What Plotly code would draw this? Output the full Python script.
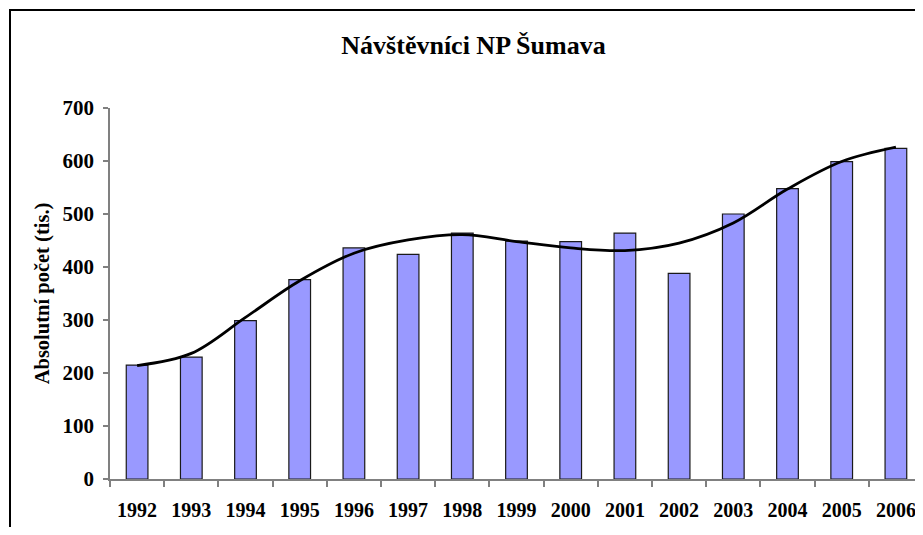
import plotly.graph_objects as go

years = ["1992", "1993", "1994", "1995", "1996", "1997", "1998", "1999",
         "2000", "2001", "2002", "2003", "2004", "2005", "2006"]
visitors = [215, 230, 299, 376, 436, 424, 464, 449, 448, 464, 388, 500, 548, 599, 624]
trend = [214, 237, 305, 374, 426, 451, 461, 448, 436, 431, 445, 483, 547, 599, 626]

title_text = "Návštěvníci NP Šumava"
y_title = "Absolutní počet (tis.)"

FONT = "Liberation Serif"

# the page shows the figure 8 px in from its top-left corner (body margin);
# keep the page within the window so no scrollbars appear
W, H = 907, 519
L, T, B = 102, 100, 48
PW = W - L
PH = H - T - B
CAT_PX = 54.2
x_end = PW / CAT_PX - 0.5

fig = go.Figure()
fig.add_trace(go.Bar(
    x=years, y=visitors, width=0.4,
    marker=dict(color="#9999FF", line=dict(color="#1a1a1a", width=1.2)),
    showlegend=False, hoverinfo="x+y",
))
fig.add_trace(go.Scatter(
    x=years, y=trend, mode="lines",
    line=dict(color="black", width=2.8, shape="spline", smoothing=1.0),
    showlegend=False,
))

fig.update_layout(
    width=W, height=H,
    margin=dict(l=L, r=0, t=T, b=B),
    paper_bgcolor="white", plot_bgcolor="white",
    font=dict(family=FONT, size=20, color="black"),
    title=dict(text="<b>" + title_text + "</b>", x=465.5 / W, xanchor="center",
               y=1 - 37 / H, yanchor="middle",
               font=dict(family=FONT, size=26, color="black")),
    bargap=0.6,
    shapes=[dict(type="rect", xref="paper", yref="paper",
                 x0=(2 - L) / PW, x1=1.2, y0=-0.5, y1=(T + PH - 2) / PH,
                 line=dict(color="black", width=2), fillcolor="rgba(0,0,0,0)",
                 layer="below")],
)
fig.update_xaxes(
    type="category", range=[-0.5, x_end],
    showline=True, linecolor="#808080", linewidth=1.5,
    ticks="outside", ticklen=6, tickcolor="#808080", tickwidth=1.5,
    tickson="boundaries", showgrid=False, zeroline=False,
    tickfont=dict(family=FONT, size=20, color="black"),
    tickprefix="<b>", ticksuffix="</b>",
    ticklabelstandoff=12,
)
fig.update_yaxes(
    range=[0, 700], dtick=100, tick0=0,
    showline=True, linecolor="#808080", linewidth=1.5,
    ticks="outside", ticklen=5, tickcolor="#808080", tickwidth=1.5,
    showgrid=False, zeroline=False,
    tickfont=dict(family=FONT, size=21, color="black"),
    tickprefix="<b>", ticksuffix="</b>",
    ticklabelstandoff=5,
    title=dict(text="<b>" + y_title + "</b>", standoff=7,
               font=dict(family=FONT, size=20.5, color="black")),
)

fig.write_html("out.html")
